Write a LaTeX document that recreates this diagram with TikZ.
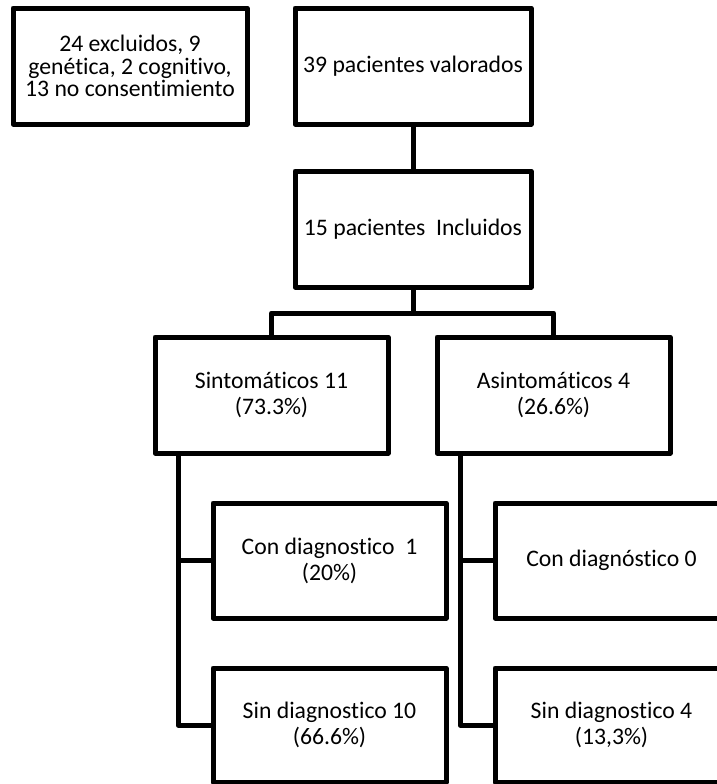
\documentclass[tikz,border=0pt]{standalone}
\usepackage{fontspec}
\setmainfont{Carlito}[Ligatures=NoCommon]
\tikzset{
  box/.style={draw, line width=2.5pt, line join=round, align=center, inner sep=0pt,
    minimum width=116.5pt, minimum height=58pt, font=\fontsize{11.85}{13}\selectfont},
  link/.style={line width=2.5pt, line join=round}
}
\begin{document}
\begin{tikzpicture}[x=0.5pt, y=-0.5pt]
  \useasboundingbox (0,0) rectangle (717,784);
  \clip (0,0) rectangle (717,784);

  \node[box, minimum width=117pt, font=\fontsize{11.85}{11.3}\selectfont] (excl) at (130,66)
    {24 excluidos, 9\\genética, 2 cognitivo,\\13 no consentimiento};
  \node[box, minimum width=118pt] (val) at (413,66) {39 pacientes valorados};
  \node[box, minimum width=118pt] (inc) at (413,229) {15 pacientes \ Incluidos};

  \node[box] (sint) at (271.5,395) {Sintomáticos 11\\(73.3\%)};
  \node[box] (asint) at (553.5,395) {Asintomáticos 4\\(26.6\%)};

  \node[box, minimum height=57.5pt] (con1) at (329.5,560.5) {Con diagnostico \ 1\\(20\%)};
  \node[box, minimum height=57pt] (sin10) at (329.5,725) {Sin diagnostico 10\\(66.6\%)};
  \node[box, minimum height=57.5pt] (con0) at (611.5,560.5) {Con diagnóstico 0};
  \node[box, minimum height=57pt] (sin4) at (611.5,725) {Sin diagnostico 4\\(13,3\%)};

  \coordinate (bar) at (413,313);
  \coordinate (treeL) at (178,0);
  \coordinate (treeR) at (460,0);

  \draw[link] (val) -- (inc);
  \draw[link] (inc.south) -- (bar);
  \draw[link] (sint.north) |- (bar) -| (asint.north);

  \draw[link] (sint.south -| treeL) |- (con1.west);
  \draw[link] (sint.south -| treeL) |- (sin10.west);
  \draw[link] (asint.south -| treeR) |- (con0.west);
  \draw[link] (asint.south -| treeR) |- (sin4.west);
\end{tikzpicture}
\end{document}
